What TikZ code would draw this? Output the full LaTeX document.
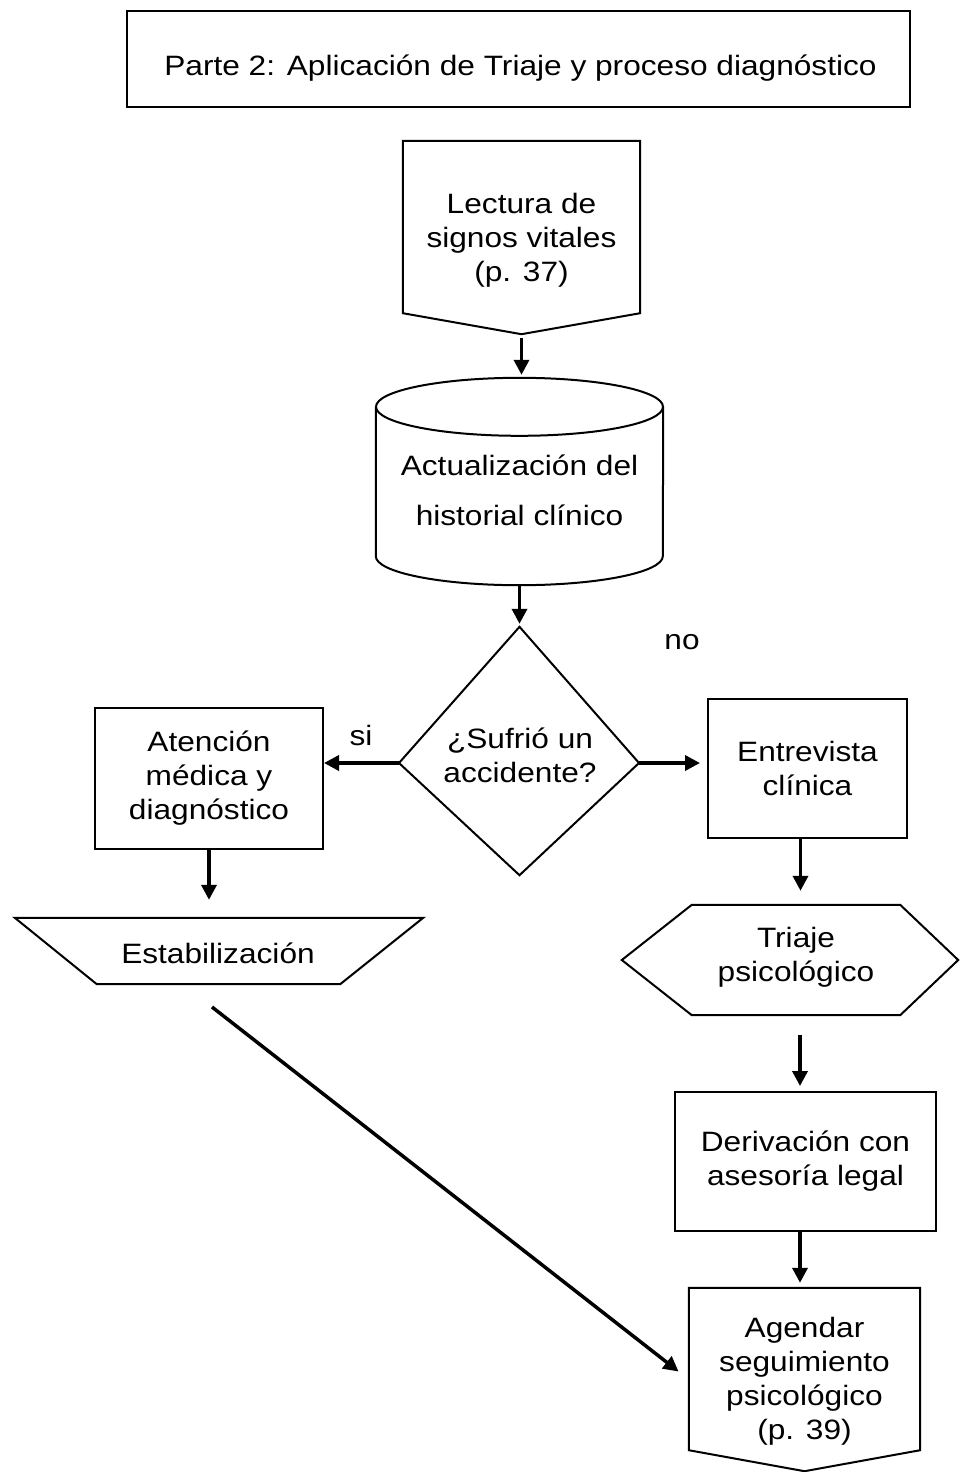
\documentclass[tikz,border=0pt]{standalone}
\usepackage{fontspec}
\setmainfont{Liberation Sans}[FakeStretch=1.13]
\usetikzlibrary{arrows.meta,calc}
\begin{document}
\begin{tikzpicture}[x=1pt,y=-1pt,
  box/.style={draw,line width=2pt,minimum width=#1,inner sep=0pt,align=center,
    font=\fontsize{28}{34}\selectfont},
  ghost/.style={inner sep=0pt,align=center,font=\fontsize{28}{34}\selectfont},
  outline/.style={draw,line width=2pt,line join=miter},
  arr/.style={line width=3.5pt,-{Triangle[length=15pt,width=15pt]}},
  lbl/.style={inner sep=0pt,font=\fontsize{28}{34}\selectfont}]
\useasboundingbox (0,0) rectangle (959,1472);
\fill[white] (0,0) rectangle (959,1472);

% title
\node[box=783pt,minimum height=96pt] (title) at (518.5,59) {};
\node[ghost] (titletext) at (520.5,68)
  {Parte 2: Aplicación de Triaje y proceso diagnóstico};

% Lectura (off-page connector)
\node[ghost,minimum width=237pt,minimum height=193pt] (lect) at (521.5,237.5) {};
\draw[outline] (lect.north west) -- (lect.north east) -- ($(lect.south east)+(0,-21)$)
  -- (lect.south) -- ($(lect.south west)+(0,-21)$) -- cycle;
\node[ghost] (lecttext) at (521.5,240) {Lectura de\\signos vitales\\(p. 37)};

% cylinder
\node[ghost,minimum width=287pt,minimum height=207pt] (cyl) at (519.5,481.5) {};
\draw[outline] ($(cyl.north)+(0,29)$) ellipse [x radius=143.5pt,y radius=29pt];
\draw[outline] ($(cyl.north west)+(0,29)$) -- ($(cyl.south west)+(0,-29)$)
  arc[start angle=180,end angle=360,x radius=143.5pt,y radius=29pt]
  -- ($(cyl.north east)+(0,29)$);
\node[ghost,font=\fontsize{28}{50}\selectfont] (cyltext) at (519.5,490)
  {Actualización del\\historial clínico};

% diamond
\node[ghost,minimum width=240pt,minimum height=248pt] (dia) at (519.5,751) {};
\coordinate (dl) at (399,763);
\coordinate (dr) at (639,763);
\draw[outline] (dia.north) -- (dl) -- (dia.south) -- (dr) -- cycle;
\node[ghost] (diatext) at (520,755) {¿Sufrió un\\accidente?};

% left branch
\node[box=228pt,minimum height=141pt] (aten) at (209,778.5)
  {Atención\\médica y\\diagnóstico};
\node[ghost,minimum width=408pt,minimum height=66pt] (estab) at (219,951) {};
\draw[outline] (estab.north west) -- (estab.north east)
  -- ($(estab.south east)+(-83,0)$) -- ($(estab.south west)+(82,0)$) -- cycle;
\node[ghost] (estabtext) at (218,953) {Estabilización};

% right branch
\node[box=199pt,minimum height=139pt] (entr) at (807.5,768.5)
  {Entrevista\\clínica};
\node[ghost,minimum width=336pt,minimum height=110pt] (hex) at (790,960) {};
\draw[outline] (hex.west) -- ($(hex.north west)+(70,0)$) -- ($(hex.north east)+(-58,0)$)
  -- (hex.east) -- ($(hex.south east)+(-58,0)$) -- ($(hex.south west)+(70,0)$) -- cycle;
\node[ghost] (hextext) at (796,957) {Triaje\\psicológico};
\node[box=261pt,minimum height=139pt] (deriv) at (805.5,1161.5)
  {Derivación con\\asesoría legal};
\node[ghost,minimum width=231pt,minimum height=183pt] (agen) at (804.5,1379.5) {};
\draw[outline] (agen.north west) -- (agen.north east) -- ($(agen.south east)+(0,-21)$)
  -- (agen.south) -- ($(agen.south west)+(0,-21)$) -- cycle;
\node[ghost] (agentext) at (804.5,1381)
  {Agendar\\seguimiento\\psicológico\\(p. 39)};

% labels
\node[lbl] (si) at (361,735) {si};
\node[lbl] (no) at (682,642) {no};

% connectors
\draw[arr,shorten <=4pt,shorten >=3pt] (lect.south) -- (lect.south |- cyl.north);
\draw[arr,shorten >=3pt] (cyl.south) -- (dia.north);
\draw[arr] (dl) -- (dl -| aten.east);
\draw[arr,shorten >=7pt] (dr) -- (dr -| entr.west);
\draw[arr,shorten >=18pt] (aten.south) -- (aten.south |- estab.north);
\draw[arr,shorten >=14pt] ([xshift=-7pt]entr.south) -- ([xshift=-7pt]entr.south |- hex.north);
\draw[arr,shorten <=20pt,shorten >=5pt] ([xshift=10pt]hex.south) -- ([xshift=-5.5pt]deriv.north);
\draw[arr,shorten >=5pt] ([xshift=-5.5pt]deriv.south) -- ([xshift=-4.5pt]agen.north);
\coordinate (dstart) at (212,1007);
\draw[arr,shorten >=13pt] (dstart) -- (agen.west);
\end{tikzpicture}
\end{document}
